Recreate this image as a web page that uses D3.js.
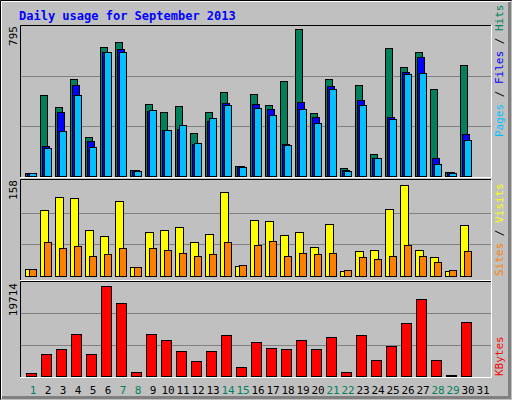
<!DOCTYPE html>
<html>
<head>
<script src="https://cdn.jsdelivr.net/npm/d3@7/dist/d3.min.js"></script>
<style>
body{margin:0;padding:0;background:#fff;}
svg{display:block;}
text{font-family:"DejaVu Sans Mono",monospace;}
</style>
</head>
<body>
<svg id="svg" width="512" height="400"></svg>
<script>
const days = d3.range(1, 32);
const weekend = [1, 7, 8, 14, 15, 21, 22, 28, 29];
const hits  = [16,429,366,514,207,684,710,32,382,339,371,228,339,445,53,435,376,504,779,334,514,42,482,117,678,578,657,461,21,588,0];
const files = [16,159,339,482,186,657,673,32,344,244,249,170,292,387,53,382,355,170,392,313,477,32,403,95,313,551,631,95,21,223,0];
const pages = [16,148,239,429,154,657,657,27,350,244,270,175,307,376,48,360,323,164,355,281,461,27,376,95,302,541,546,64,16,191,0];
const visits = [12,109,132,130,77,67,125,15,73,77,81,57,70,140,16,93,91,68,73,49,86,8,41,44,112,151,44,31,8,85,0];
const sites  = [11,57,47,50,34,36,46,15,46,44,39,33,36,57,18,52,59,34,38,36,39,10,31,28,33,52,34,23,10,41,0];
const kbytes = [600,4700,5750,8830,4700,18900,15400,800,8830,7600,5340,3080,5340,8620,1850,7190,5960,5750,7600,5750,8210,800,8620,3290,6370,11090,16220,3290,200,11300,0];
const maxHits = 795, maxVisits = 158, maxKB = 19714;

const svg = d3.select('#svg');
// outer frame
svg.append('rect').attr('x',0).attr('y',0).attr('width',512).attr('height',400).attr('fill','#c0c0c0');
svg.append('path').attr('d','M0.5,399.5V0.5H511.5').attr('fill','none').attr('stroke','#000');
svg.append('path').attr('d','M1.5,398.5V1.5H510.5').attr('fill','none').attr('stroke','#fff');
svg.append('path').attr('d','M509.5,2V397.5H2').attr('fill','none').attr('stroke','#808080').attr('stroke-width',3);

svg.append('text').attr('x',19).attr('y',20).text('Daily usage for September 2013')
  .style('font-size','12px').style('font-weight','bold').attr('fill','#0000ff');

const x = d3.scaleLinear().domain([1, 31]).range([25, 475]);

function panel(y0, y1){
  svg.append('rect').attr('x',20).attr('y',y0).attr('width',471).attr('height',y1-y0).attr('fill','#c0c0c0');
  svg.append('path').attr('d',`M20.5,${y1}V${y0+0.5}H491`).attr('fill','none').attr('stroke','#000');
  svg.append('path').attr('d',`M491.5,${y0}V${y1+0.5}H20`).attr('fill','none').attr('stroke','#fff');
}
function grid(y){
  const ext = y.range();
  [1/3, 2/3].forEach(f => {
    const yy = Math.round(ext[0] + (ext[1]-ext[0])*f) + 0.5;
    svg.append('line').attr('x1',21).attr('x2',491).attr('y1',yy).attr('y2',yy).attr('stroke','#808080');
  });
}
function bars(data, y, dx, w, color){
  svg.append('g').selectAll('rect').data(data).join('rect')
    .filter(d => d > 0)
    .attr('x', (d,i) => x(days[i]) + dx + 0.5)
    .attr('y', d => Math.round(y(d)) + 0.5)
    .attr('width', w)
    .attr('height', d => Math.max(1, Math.round(y.range()[0] - y(d))))
    .attr('fill', color).attr('stroke','#000');
}
function leftLabel(txt, yy){
  svg.append('text').attr('transform',`translate(17,${yy}) rotate(-90)`).attr('text-anchor','end')
    .text(txt).style('font-size','11px').attr('fill','#000');
}
function rightLabel(parts, yy){
  const t = svg.append('text').attr('transform',`translate(503,${yy}) rotate(-90)`).attr('text-anchor','start').style('font-size','11px');
  parts.forEach(p => t.append('tspan').text(p[0]).attr('fill',p[1]));
}

// top panel
panel(25, 177);
const yTop = d3.scaleLinear().domain([0, maxHits]).range([176, 26]);
grid(yTop);
bars(hits, yTop, 0, 7, '#00805c');
bars(files, yTop, 2, 7, '#0000ff');
bars(pages, yTop, 4, 7, '#00c0ff');
leftLabel('795', 26);
rightLabel([['Pages','#00c0ff'],[' / ','#000'],['Files','#0000ff'],[' / ','#000'],['Hits','#00805c']], 137);

// middle panel
panel(179, 280);
const yMid = d3.scaleLinear().domain([0, maxVisits]).range([276, 181]);
grid(yMid);
bars(visits, yMid, 0, 8, '#ffff00');
bars(sites, yMid, 4, 7, '#ff8000');
leftLabel('158', 180);
rightLabel([['Sites','#ff8000'],[' / ','#000'],['Visits','#ffff00']], 276);

// bottom panel
panel(281, 377);
const yBot = d3.scaleLinear().domain([0, maxKB]).range([376, 282]);
grid(yBot);
bars(kbytes, yBot, 1, 10, '#ff0000');
leftLabel('19714', 283);
rightLabel([['KBytes','#ff0000']], 376);

// day labels
svg.append('g').selectAll('text').data(days).join('text')
  .attr('x', d => x(d) + 8).attr('y', 394).attr('text-anchor','middle')
  .style('font-size','11px')
  .attr('fill', d => weekend.includes(d) ? '#00805c' : '#000')
  .text(d => d);
</script>
</body>
</html>
